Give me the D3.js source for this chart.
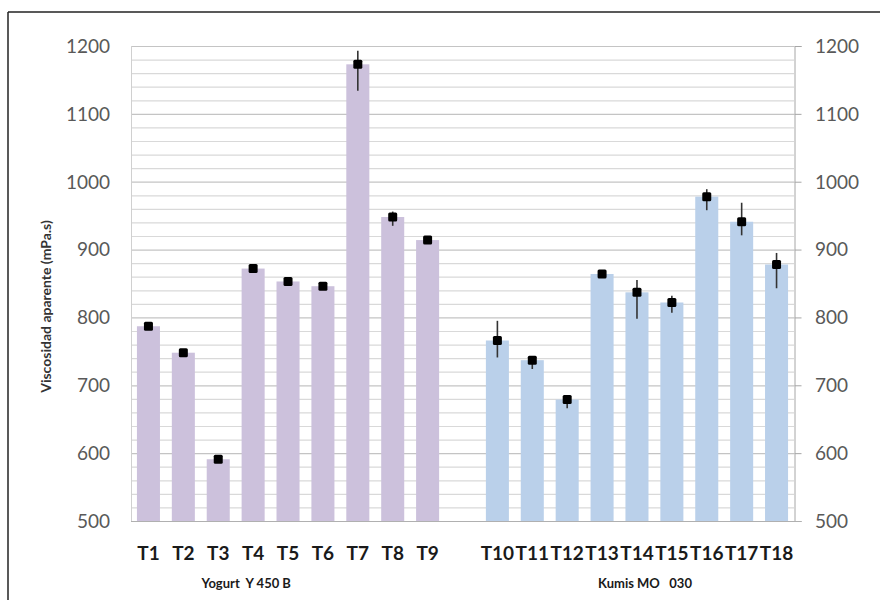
<!DOCTYPE html>
<html>
<head>
<meta charset="utf-8">
<script src="https://cdn.jsdelivr.net/npm/d3@7/dist/d3.min.js"></script>
<style>
  html, body { margin: 0; padding: 0; background: #fff; }
  svg { display: block; }
</style>
</head>
<body>
<script>
// ---- data ----
const yogurtCats = ["T1","T2","T3","T4","T5","T6","T7","T8","T9"];
const kumisCats  = ["T10","T11","T12","T13","T14","T15","T16","T17","T18"];
const yogurtValues = [787, 748, 591, 872, 853, 846, 1173, 948, 914];
const kumisValues  = [766, 737, 679, 864, 837, 822, 978, 941, 878];
const yogurtErrPlus  = [3, 3, 4, 3, 3, 3, 20, 8, 3];
const yogurtErrMinus = [3, 3, 4, 3, 3, 3, 39, 13, 3];
const kumisErrPlus   = [29, 3, 2, 2, 18, 10, 11, 28, 17];
const kumisErrMinus  = [25, 13, 13, 2, 39, 15, 20, 20, 35];
const yTicks = [500, 600, 700, 800, 900, 1000, 1100, 1200];
const groupLabels = ["Yogurt  Y 450 B", "Kumis MO   030"];
const yTitle = "Viscosidad aparente (mPa.s)";

(function () {
const W = 880, H = 600;
const pL = 131, pR = 794, pT = 46, pB = 521;
const GAP = "_gap";

const svg = d3.select("body").append("svg").attr("width", W).attr("height", H);
svg.append("rect").attr("width", W).attr("height", H).attr("fill", "#fff");

// outer frame (top and left)
svg.append("line").attr("x1", 8).attr("x2", W).attr("y1", 12).attr("y2", 12)
  .attr("stroke", "#222").attr("stroke-width", 1.5);
svg.append("line").attr("x1", 8).attr("x2", 8).attr("y1", 12).attr("y2", H)
  .attr("stroke", "#222").attr("stroke-width", 1.5);

const domain = yogurtCats.concat([GAP], kumisCats);
const x = d3.scaleBand().domain(domain).range([pL, pR]).paddingInner(0.34).paddingOuter(0.17);
const y = d3.scaleLinear().domain([500, 1200]).range([pB, pT]);

// gridlines every 20
const minor = d3.range(500, 1201, 20);
svg.append("g").selectAll("line").data(minor).join("line")
  .attr("x1", pL).attr("x2", pR)
  .attr("y1", d => y(d) + 0.5).attr("y2", d => y(d) + 0.5)
  .attr("stroke", d => d % 100 === 0 ? "#c4c4c4" : "#d9d9d9")
  .attr("stroke-width", 1.2);

// left axis line
svg.append("line").attr("x1", pL + 0.5).attr("x2", pL + 0.5).attr("y1", pT).attr("y2", pB)
  .attr("stroke", "#d0d0d0");

// right axis with outward ticks
const rightAxis = d3.axisRight(y).tickValues(yTicks).tickSize(7).tickFormat("");
const ra = svg.append("g").attr("transform", `translate(${pR + 0.5},0)`).call(rightAxis);
ra.select(".domain").attr("stroke", "#a6a6a6");
ra.selectAll(".tick line").attr("stroke", "#a6a6a6");

// baseline
svg.append("line").attr("x1", pL).attr("x2", pR + 7).attr("y1", pB + 0.5).attr("y2", pB + 0.5)
  .attr("stroke", "#b0b0b0");

// tick labels
const tickFont = "Lato, 'Open Sans', sans-serif";
svg.append("g").selectAll("text").data(yTicks).join("text")
  .attr("x", 110).attr("y", d => y(d)).attr("dy", "0.36em")
  .attr("text-anchor", "end").attr("font-family", tickFont).attr("font-size", 19)
  .attr("fill", "#595959").text(d => d);
svg.append("g").selectAll("text").data(yTicks).join("text")
  .attr("x", 815).attr("y", d => y(d)).attr("dy", "0.36em")
  .attr("text-anchor", "start").attr("font-family", tickFont).attr("font-size", 19)
  .attr("fill", "#595959").text(d => d);

// bars
const rows = yogurtCats.map((c, i) => ({c, v: yogurtValues[i], p: yogurtErrPlus[i], m: yogurtErrMinus[i], color: "#ccc1dc"}))
  .concat(kumisCats.map((c, i) => ({c, v: kumisValues[i], p: kumisErrPlus[i], m: kumisErrMinus[i], color: "#bad0ea"})));

svg.append("g").selectAll("rect").data(rows).join("rect")
  .attr("x", d => x(d.c)).attr("width", x.bandwidth())
  .attr("y", d => y(d.v)).attr("height", d => pB - y(d.v))
  .attr("fill", d => d.color);

// error bars
svg.append("g").selectAll("line").data(rows).join("line")
  .attr("x1", d => x(d.c) + x.bandwidth() / 2).attr("x2", d => x(d.c) + x.bandwidth() / 2)
  .attr("y1", d => y(d.v + d.p)).attr("y2", d => y(d.v - d.m))
  .attr("stroke", "#333").attr("stroke-width", 1.6);

// markers
svg.append("g").selectAll("rect").data(rows).join("rect")
  .attr("x", d => x(d.c) + x.bandwidth() / 2 - 4.5).attr("y", d => y(d.v) - 4.5)
  .attr("width", 9).attr("height", 9).attr("rx", 1.5)
  .attr("fill", "#000");

// category labels
svg.append("g").selectAll("text").data(rows).join("text")
  .attr("x", d => x(d.c) + x.bandwidth() / 2).attr("y", 553).attr("dy", "0.36em")
  .attr("text-anchor", "middle").attr("font-family", tickFont).attr("font-weight", "bold")
  .attr("font-size", 19).attr("fill", "#1a1a1a").text(d => d.c);

// group labels
svg.append("text").attr("x", x("T4") + x.bandwidth() * 0.2).attr("y", 583).attr("dy", "0.36em")
  .attr("text-anchor", "middle").attr("font-family", tickFont).attr("font-weight", "bold")
  .attr("font-size", 13).attr("fill", "#1a1a1a").style("white-space", "pre").text(groupLabels[0]);
svg.append("text").attr("x", x("T14") + x.bandwidth() * 0.85).attr("y", 583).attr("dy", "0.36em")
  .attr("text-anchor", "middle").attr("font-family", tickFont).attr("font-weight", "bold")
  .attr("font-size", 13).attr("fill", "#1a1a1a").style("white-space", "pre").text(groupLabels[1]);

// y title
svg.append("text").attr("transform", `translate(46,${(pT + pB) / 2 + 23}) rotate(-90)`)
  .attr("dy", "0.36em").attr("text-anchor", "middle").attr("font-family", tickFont)
  .attr("font-weight", "bold").attr("font-size", 14).attr("fill", "#333").text(yTitle);
})();
</script>
</body>
</html>
